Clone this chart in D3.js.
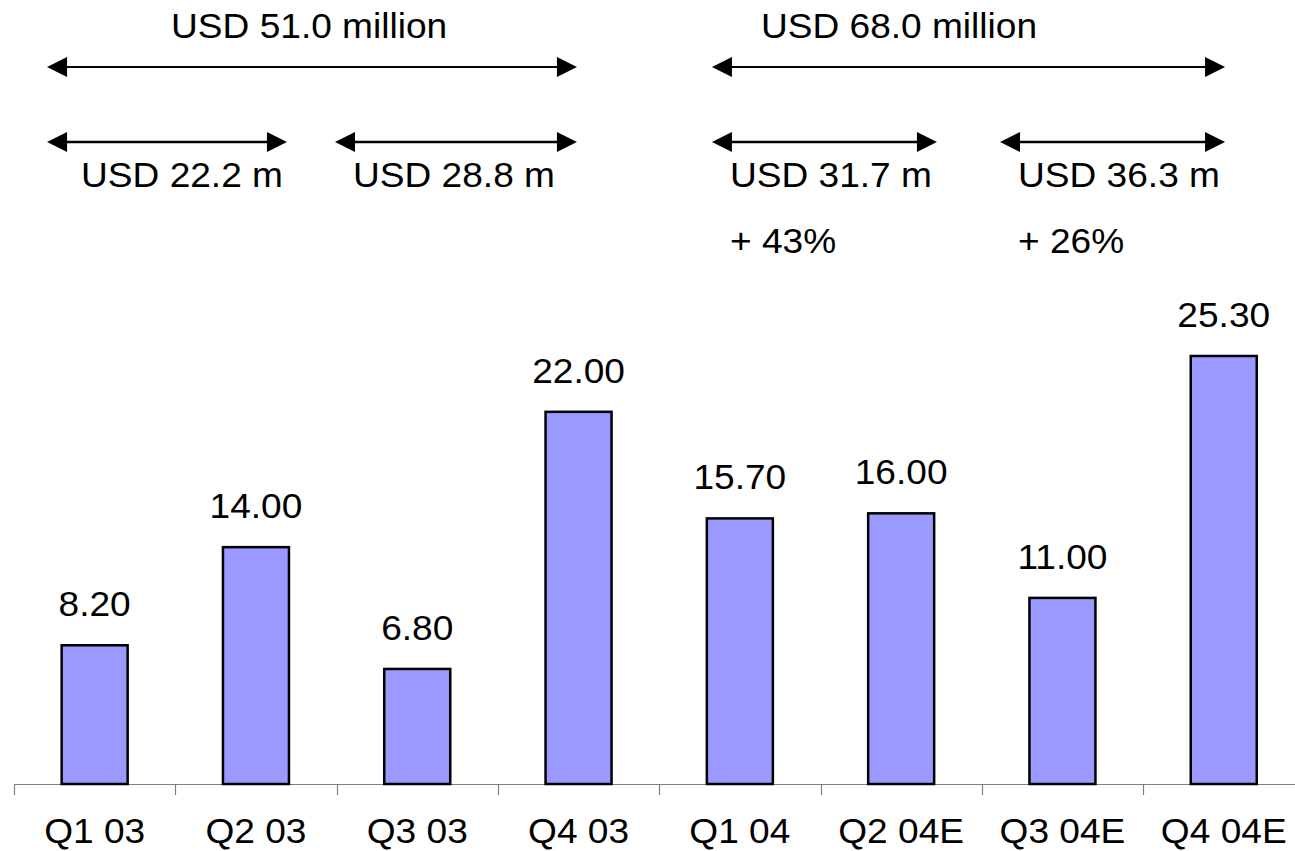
<!DOCTYPE html>
<html>
<head>
<meta charset="utf-8">
<script src="https://cdn.jsdelivr.net/npm/d3@7"></script>
<style>
  html, body { margin: 0; padding: 0; background: #fff; }
  svg { display: block; }
  text { font-family: "Liberation Sans", Arial, sans-serif; fill: #000; }
</style>
</head>
<body>
<svg id="chart" width="1295" height="851"></svg>
<script>
// ---- data ----
const categories = ["Q1 03", "Q2 03", "Q3 03", "Q4 03", "Q1 04", "Q2 04E", "Q3 04E", "Q4 04E"];
const values = [8.20, 14.00, 6.80, 22.00, 15.70, 16.00, 11.00, 25.30];
// annotation arrows, in category units (0 = left edge of first band)
const arrowStarts = [0.205, 0.205, 1.99, 4.327, 4.327, 6.113];
const arrowEnds   = [3.49, 1.692, 3.49, 7.508, 5.722, 7.508];
const arrowLevel  = ["top", "sub", "sub", "top", "sub", "sub"];
// annotation texts
const noteTexts = ["USD 51.0 million", "USD 68.0 million", "USD 22.2 m", "USD 28.8 m", "USD 31.7 m", "USD 36.3 m", "+ 43%", "+ 26%"];
const notePos   = [0.986, 4.643, 0.428, 2.114, 4.451, 6.237, 4.451, 6.237];
const noteLevel = ["top", "top", "sub", "sub", "sub", "sub", "pct", "pct"];

// ---- layout ----
const svg = d3.select("#chart");
const left = 14, band = 161.3, baseY = 784;
const x = d3.scaleBand().domain(categories).range([left, left + band * categories.length]).paddingInner(0).paddingOuter(0);
const xu = d3.scaleLinear().domain([0, categories.length]).range([left, left + band * categories.length]);
const y = d3.scaleLinear().domain([0, 25.3]).range([baseY, 356]);
const barW = 66;
const fontSize = 35;
const stretch = 1.06;
const tf = (px, py) => `translate(${px},${py}) scale(${stretch},1)`;

// axis line
svg.append("line")
  .attr("x1", left).attr("x2", 1295)
  .attr("y1", baseY + 0.5).attr("y2", baseY + 0.5)
  .attr("stroke", "#808080").attr("stroke-width", 1.2);
// ticks at band boundaries
svg.selectAll("line.tick").data(categories).enter().append("line")
  .attr("class", "tick")
  .attr("x1", d => Math.round(x(d)) + 0.5).attr("x2", d => Math.round(x(d)) + 0.5)
  .attr("y1", baseY).attr("y2", baseY + 11)
  .attr("stroke", "#808080").attr("stroke-width", 1.2);

// bars
svg.selectAll("rect.bar").data(values).enter().append("rect")
  .attr("class", "bar")
  .attr("x", (d, i) => x(categories[i]) + x.bandwidth() / 2 - barW / 2)
  .attr("y", d => y(d))
  .attr("width", barW)
  .attr("height", d => baseY - y(d))
  .attr("fill", "#9999FF")
  .attr("stroke", "#000").attr("stroke-width", 2.5);

// value labels
svg.selectAll("text.val").data(values).enter().append("text")
  .attr("class", "val")
  .attr("transform", (d, i) => tf(x(categories[i]) + x.bandwidth() / 2, y(d) - 29))
  .attr("text-anchor", "middle")
  .attr("font-size", fontSize)
  .text(d => d.toFixed(2));

// category labels
svg.selectAll("text.cat").data(categories).enter().append("text")
  .attr("class", "cat")
  .attr("transform", d => tf(x(d) + x.bandwidth() / 2, 843))
  .attr("text-anchor", "middle")
  .attr("font-size", fontSize)
  .text(d => d);

// arrows
const levelY = { top: 67, sub: 142 };
const levelW = { top: 2, sub: 2.6 };
const headL = 20, headH = 10;
arrowStarts.forEach((s, i) => {
  const x1 = xu(s), x2 = xu(arrowEnds[i]), yy = levelY[arrowLevel[i]];
  svg.append("line")
    .attr("x1", x1 + headL - 2).attr("x2", x2 - headL + 2)
    .attr("y1", yy).attr("y2", yy)
    .attr("stroke", "#000").attr("stroke-width", levelW[arrowLevel[i]]);
  svg.append("path")
    .attr("d", `M${x1},${yy} L${x1 + headL},${yy - headH} L${x1 + headL},${yy + headH} Z`)
    .attr("fill", "#000");
  svg.append("path")
    .attr("d", `M${x2},${yy} L${x2 - headL},${yy - headH} L${x2 - headL},${yy + headH} Z`)
    .attr("fill", "#000");
});

// annotation texts
const textY = { top: 38, sub: 187, pct: 253 };
svg.selectAll("text.note").data(noteTexts).enter().append("text")
  .attr("class", "note")
  .attr("transform", (d, i) => tf(xu(notePos[i]) - 2, textY[noteLevel[i]]))
  .attr("text-anchor", "start")
  .attr("font-size", fontSize)
  .text(d => d);
</script>
</body>
</html>
